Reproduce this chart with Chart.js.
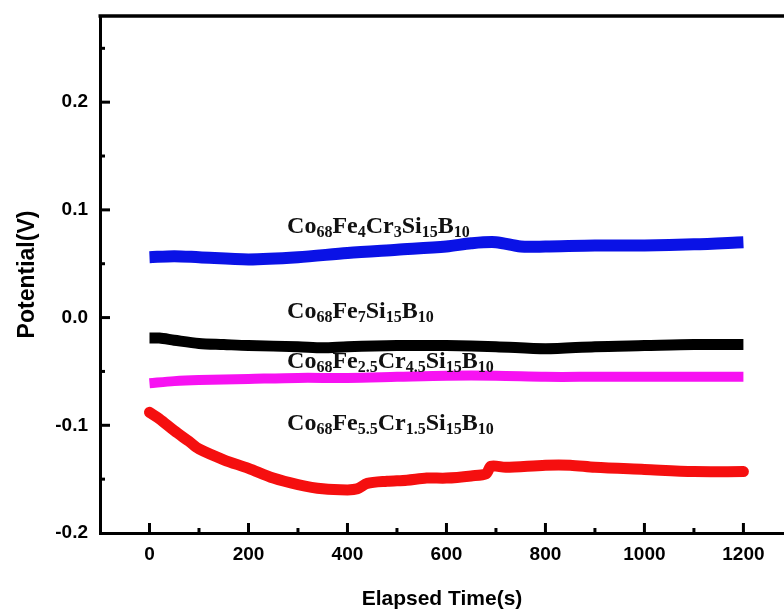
<!DOCTYPE html>
<html>
<head>
<meta charset="utf-8">
<script src="https://cdn.jsdelivr.net/npm/chart.js@4.4.1/dist/chart.umd.min.js"></script>
<style>
  body { margin: 0; background: #fff; }
  #wrap { width: 784px; height: 612px; }
</style>
</head>
<body>
<div id="wrap"><canvas id="plot-potential" width="784" height="612"></canvas></div>
<script>
// elapsed time (s) and open circuit potential (V) for each alloy
const blueTime = [0, 50, 100, 200, 300, 400, 500, 600, 650, 700, 750, 800, 900, 1000, 1100, 1200];
const bluePotential = [0.056, 0.057, 0.056, 0.054, 0.056, 0.060, 0.063, 0.066, 0.069, 0.070, 0.066, 0.066, 0.067, 0.067, 0.068, 0.070];

const blackTime = [0, 20, 50, 100, 150, 200, 300, 350, 400, 500, 600, 700, 800, 900, 1000, 1100, 1200];
const blackPotential = [-0.019, -0.019, -0.021, -0.024, -0.025, -0.026, -0.027, -0.028, -0.027, -0.026, -0.026, -0.027, -0.029, -0.027, -0.026, -0.025, -0.025];

const pinkTime = [0, 50, 100, 200, 300, 400, 500, 600, 700, 800, 900, 1000, 1100, 1200];
const pinkPotential = [-0.061, -0.059, -0.058, -0.057, -0.056, -0.056, -0.055, -0.054, -0.054, -0.055, -0.055, -0.055, -0.055, -0.055];

const redTime = [0, 20, 50, 80, 100, 150, 200, 250, 300, 350, 400, 420, 440, 480, 520, 560, 600, 650, 680, 690, 720, 800, 850, 900, 1000, 1100, 1200];
const redPotential = [-0.088, -0.094, -0.105, -0.115, -0.122, -0.132, -0.140, -0.149, -0.155, -0.159, -0.160, -0.159, -0.154, -0.152, -0.151, -0.149, -0.149, -0.147, -0.145, -0.138, -0.139, -0.137, -0.137, -0.139, -0.141, -0.143, -0.143];

// alloy names, "|" switches between normal text and subscript
const alloyNames = [
  "Co|68|Fe|4|Cr|3|Si|15|B|10",
  "Co|68|Fe|7|Si|15|B|10",
  "Co|68|Fe|2.5|Cr|4.5|Si|15|B|10",
  "Co|68|Fe|5.5|Cr|1.5|Si|15|B|10"
];

const xTickValues = [0, 200, 400, 600, 800, 1000, 1200];
const yTickValues = [-0.2, -0.1, 0.0, 0.1, 0.2];

function toPoints(xs, ys) {
  return xs.map((t, i) => ({ x: t, y: ys[i] }));
}

// where each name is written, in data units
const nameAnchors = [
  { x: 278, y: 0.0785 },
  { x: 278, y: -0.0004 },
  { x: 278, y: -0.0468 },
  { x: 278, y: -0.1044 }
];

const namesPlugin = {
  id: "names",
  afterDatasetsDraw(chart) {
    const ctx = chart.ctx;
    const xs = chart.scales.x, ys = chart.scales.y;
    ctx.save();
    ctx.fillStyle = "#111";
    ctx.textBaseline = "alphabetic";
    alloyNames.forEach((name, i) => {
      let px = xs.getPixelForValue(nameAnchors[i].x);
      const py = ys.getPixelForValue(nameAnchors[i].y);
      name.split("|").forEach((part, j) => {
        const sub = j % 2 === 1;
        ctx.font = sub ? "bold 16px 'Liberation Serif', 'Times New Roman', serif"
                       : "bold 24px 'Liberation Serif', 'Times New Roman', serif";
        ctx.fillText(part, px, sub ? py + 4 : py);
        px += ctx.measureText(part).width;
      });
    });
    ctx.restore();
  }
};

const framePlugin = {
  id: "frame",
  afterDraw(chart) {
    const ctx = chart.ctx;
    const { left, right, top, bottom } = chart.chartArea;
    const xs = chart.scales.x, ys = chart.scales.y;
    ctx.save();
    ctx.strokeStyle = "#000";
    ctx.lineWidth = 3.5;
    ctx.beginPath();
    ctx.moveTo(left - 1.5, top);
    ctx.lineTo(right, top);
    ctx.stroke();
    ctx.lineWidth = 3;
    for (let v = 0; v <= 1200; v += 100) {
      const px = xs.getPixelForValue(v);
      const len = v % 200 === 0 ? 10 : 5;
      ctx.beginPath();
      ctx.moveTo(px, bottom);
      ctx.lineTo(px, bottom - len);
      ctx.stroke();
    }
    for (let k = -3; k <= 5; k++) {
      const v = k * 0.05;
      const py = ys.getPixelForValue(v);
      const len = k % 2 === 0 ? 10 : 5;
      ctx.beginPath();
      ctx.moveTo(left, py);
      ctx.lineTo(left + len, py);
      ctx.stroke();
    }
    ctx.restore();
  }
};

Chart.defaults.font.family = "'Liberation Sans', Arial, sans-serif";
Chart.defaults.color = "#000";

const canvas = document.getElementById("plot-potential");
const myChart = new Chart(canvas, {
  type: "line",
  data: {
    datasets: [
      {
        label: "Co68Fe4Cr3Si15B10",
        data: toPoints(blueTime, bluePotential),
        borderColor: "#0a12e6",
        borderWidth: 12,
        borderCapStyle: "butt",
      },
      {
        label: "Co68Fe7Si15B10",
        data: toPoints(blackTime, blackPotential),
        borderColor: "#000000",
        borderWidth: 11,
        borderCapStyle: "butt",
      },
      {
        label: "Co68Fe2.5Cr4.5Si15B10",
        data: toPoints(pinkTime, pinkPotential),
        borderColor: "#f712f2",
        borderWidth: 10,
        borderCapStyle: "butt",
      },
      {
        label: "Co68Fe5.5Cr1.5Si15B10",
        data: toPoints(redTime, redPotential),
        borderColor: "#f50f0f",
        borderWidth: 11,
        borderCapStyle: "round",
      },
    ],
  },
  options: {
    responsive: false,
    animation: false,
    devicePixelRatio: 1,
    layout: { autoPadding: false, padding: { top: 16, right: 0, left: 0, bottom: 0 } },
    elements: {
      point: { radius: 0 },
      line: { tension: 0.3, borderJoinStyle: "round" },
    },
    plugins: {
      legend: { display: false },
      tooltip: { enabled: false },
    },
    scales: {
      x: {
        type: "linear",
        min: -100,
        max: 1282,
        afterFit(scale) {
          scale.height = 79;
          scale.paddingLeft = 0;
          scale.paddingRight = 0;
        },
        afterBuildTicks(scale) { scale.ticks = xTickValues.map((v) => ({ value: v })); },
        grid: { display: false, drawTicks: false },
        border: { display: true, color: "#000", width: 3 },
        ticks: {
          font: { size: 19, weight: "bold" },
          padding: 10,
          autoSkip: false,
          maxRotation: 0,
          callback: (v) => String(v),
        },
        title: {
          display: true,
          text: "Elapsed Time(s)",
          font: { size: 21, weight: "bold" },
          padding: { top: 0, bottom: 0 },
        },
      },
      y: {
        type: "linear",
        min: -0.2,
        max: 0.28,
        afterFit(scale) {
          scale.width = 100;
          scale.paddingTop = 0;
          scale.paddingBottom = 0;
        },
        afterBuildTicks(scale) { scale.ticks = yTickValues.map((v) => ({ value: v })); },
        grid: { display: false, drawTicks: false },
        border: { display: true, color: "#000", width: 3 },
        ticks: {
          font: { size: 19, weight: "bold" },
          padding: 12,
          autoSkip: false,
          callback: (v) => Number(v).toFixed(1),
        },
        title: {
          display: true,
          text: "Potential(V)",
          font: { size: 23, weight: "bold" },
          padding: { top: 14, bottom: 0 },
        },
      },
    },
  },
  plugins: [namesPlugin, framePlugin],
});
</script>
</body>
</html>
